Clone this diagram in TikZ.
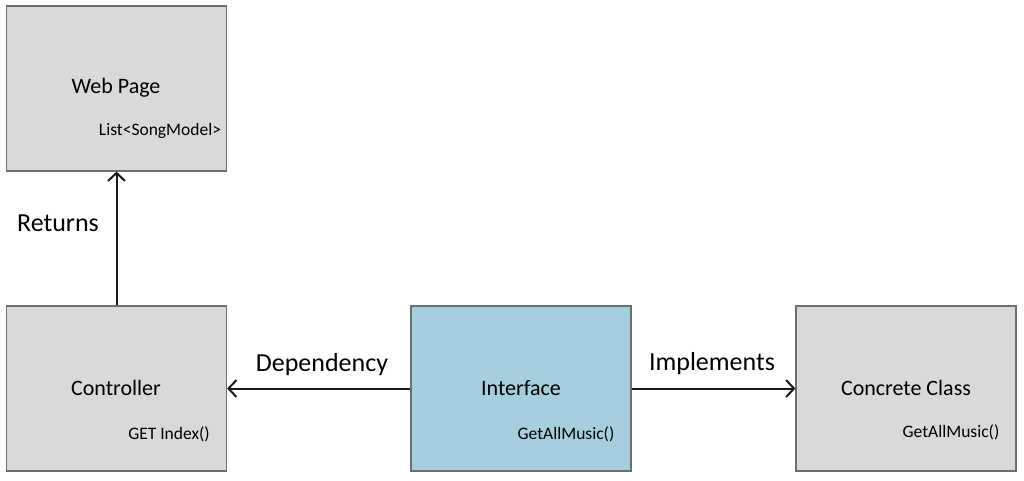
\documentclass[tikz,border=0pt]{standalone}
\usepackage{fontspec}
\setmainfont{Carlito}
\usetikzlibrary{arrows.meta}
\definecolor{boxgray}{HTML}{D9D9D9}
\definecolor{boxblue}{HTML}{A5CFDC}
\definecolor{edgegray}{HTML}{6E6E6E}
\definecolor{arrowc}{HTML}{1A1A1A}
\tikzset{
  classbox/.style={draw=edgegray, line width=1.2pt, fill=boxgray, minimum width=220pt, minimum height=165pt, inner sep=0pt},
  heading/.style={font=\fontsize{22}{26}\selectfont, inner sep=0pt},
  member/.style={font=\fontsize{17.5}{21}\selectfont, inner sep=0pt},
  edgelabel/.style={font=\fontsize{26}{30}\selectfont, inner sep=0pt},
  link/.style={draw=arrowc, line width=2pt, -{Straight Barb[length=8pt,width=17pt,line width=2pt]}}
}
\begin{document}
\begin{tikzpicture}[x=1pt,y=-1pt]
\useasboundingbox[fill=white] (0,0) rectangle (1024,481);
\node[classbox] (web) at (116.5,88.5) {};
\node[classbox] (ctrl) at (116.5,388.5) {};
\node[classbox, fill=boxblue] (intf) at (521,388.5) {};
\node[classbox] (conc) at (906,388.5) {};
\node[heading] (webh) at (116,88) {Web Page};
\node[member] (webm) at (160,131) {List<SongModel>};
\node[heading] (ctrlh) at (116,388) {Controller};
\node[member] (ctrlm) at (169,434) {GET Index()};
\node[heading] (intfh) at (521,388) {Interface};
\node[member] (intfm) at (566,434) {GetAllMusic()};
\node[heading] (conch) at (906,388) {Concrete Class};
\node[member] (concm) at (951,432) {GetAllMusic()};
\draw[link] (ctrl.north) -- (web.south);
\draw[link] (intf.west) -- (ctrl.east);
\draw[link] (intf.east) -- (conc.west);
\node[edgelabel] (lret) at (58,223) {Returns};
\node[edgelabel] (ldep) at (322,365) {Dependency};
\node[edgelabel] (limp) at (712,364) {Implements};
\end{tikzpicture}
\end{document}
